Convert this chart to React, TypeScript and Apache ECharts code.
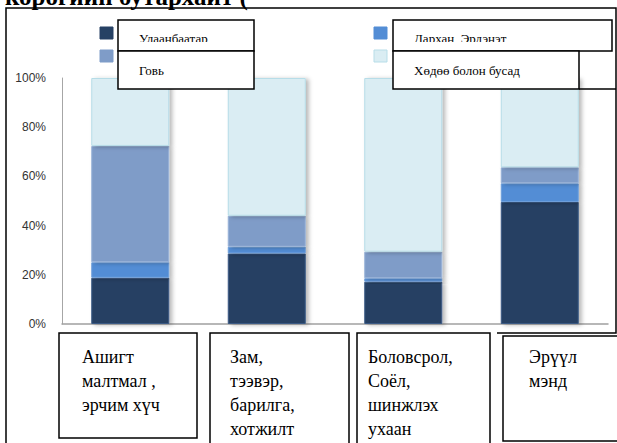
import React, { useEffect, useRef } from "react";
import * as echarts from "echarts";

// Sector categories (line breaks as they appear in the label boxes)
const categories = [
  "Ашигт\nмалтмал ,\nэрчим хүч",
  "Зам,\nтээвэр,\nбарилга,\nхотжилт",
  "Боловсрол,\nСоёл,\nшинжлэх\nухаан",
  "Эрүүл\nмэнд",
];

const seriesNames = ["Улаанбаатар", "Дархан, Эрдэнэт", "Говь", "Хөдөө болон бусад"];

// Shares by region, percent of each sector
const ulaanbaatar = [18.8, 28.7, 17.2, 49.6];
const darkhanErdenet = [6.3, 2.7, 1.4, 7.6];
const govi = [47.3, 12.6, 10.8, 6.5];
const rural = [27.6, 56.0, 70.6, 36.3];

const yTicks = [0, 20, 40, 60, 80, 100];

const titleText = "корогийн бутархайт (";

const colors = ["#264164", "#538DD5", "#7F9CC8", "#DAEDF3"];
const borderColors = ["#3A5A85", "#6FA0DC", "#98B3D8", "#B7DDE8"];

const serif = '"Liberation Serif", "Times New Roman", serif';

export default function App() {
  const ref = useRef<HTMLDivElement>(null);

  useEffect(() => {
    if (!ref.current) return;
    const chart = echarts.init(ref.current, null, { renderer: "svg" });

    const values = [ulaanbaatar, darkhanErdenet, govi, rural];

    const series = values.map((data, i) => ({
      name: seriesNames[i],
      type: "bar",
      stack: "total",
      barWidth: 78,
      data,
      itemStyle: {
        color: colors[i],
        borderColor: borderColors[i],
        borderWidth: 1,
        shadowColor: "rgba(0,0,0,0.28)",
        shadowBlur: 4,
        shadowOffsetX: 3,
        shadowOffsetY: 1,
      },
    }));

    const stroke = { stroke: "#000", lineWidth: 1.5 };
    const boxStyle = { fill: "#fff", stroke: "#000", lineWidth: 1.5 };

    // Legend: swatches + framed labels
    const legendSlots = [
      { sx: 100, sy: 27, bx: 118, by: 20, bw: 136, tx: 139, ty: 38, clip: true },
      { sx: 374, sy: 27, bx: 393, by: 20, bw: 219, tx: 414, ty: 38, clip: true },
      { sx: 100, sy: 50, bx: 118, by: 51, bw: 136, tx: 139, ty: 70, clip: false },
      { sx: 374, sy: 50, bx: 393, by: 51, bw: 186, tx: 414, ty: 70, clip: false },
    ];
    // legend order: UB, Darkhan (row 1), Govi, Rural (row 2)
    const legendSeries = [0, 1, 2, 3];

    const legendEls: any[] = [];
    legendSlots.forEach((s, k) => {
      const idx = legendSeries[k];
      const h = s.by === 20 ? 31 : 38;
      legendEls.push({
        type: "rect",
        shape: { x: s.sx, y: s.sy, width: 13, height: 12 },
        style: { fill: colors[idx], stroke: idx === 3 ? borderColors[3] : colors[idx], lineWidth: 1 },
        z: 100,
      });
      legendEls.push({
        type: "rect",
        shape: { x: s.bx, y: s.by, width: s.bw, height: h },
        style: boxStyle,
        z: 101,
      });
      legendEls.push({
        type: "text",
        x: s.tx,
        y: s.ty,
        style: { text: seriesNames[idx], font: `13px ${serif}`, fill: "#000", verticalAlign: "middle" },
        z: 102,
      });
      if (s.clip) {
        legendEls.push({
          type: "rect",
          shape: { x: s.bx + 1, y: 42, width: s.bw - 2, height: 8 },
          style: { fill: "#fff" },
          z: 103,
        });
      }
    });

    // Category label boxes under the plot
    const catBoxes = [
      { x: 59, y: 333, w: 138, h: 105, tx: 82 },
      { x: 210, y: 333, w: 139, h: 120, tx: 230 },
      { x: 357, y: 333, w: 133, h: 120, tx: 368 },
      { x: 503, y: 336, w: 130, h: 105, tx: 529 },
    ];
    const catEls: any[] = [];
    catBoxes.forEach((b, i) => {
      catEls.push({
        type: "rect",
        shape: { x: b.x, y: b.y, width: b.w, height: b.h },
        style: boxStyle,
        z: 100,
      });
      catEls.push({
        type: "text",
        x: b.tx,
        y: 345,
        style: {
          text: categories[i],
          font: `18px ${serif}`,
          lineHeight: 24,
          fill: "#000",
          verticalAlign: "top",
        },
        z: 101,
      });
    });

    chart.setOption({
      animation: false,
      backgroundColor: "#fff",
      grid: { left: 62, right: 9, top: 78, bottom: 119, containLabel: false },
      xAxis: {
        type: "category",
        data: categories,
        axisLabel: { show: false },
        axisTick: { show: false },
        axisLine: { lineStyle: { color: "#A0A0A0", width: 1.5 } },
      },
      yAxis: {
        type: "value",
        min: yTicks[0],
        max: yTicks[yTicks.length - 1],
        interval: 20,
        axisLine: { show: true, lineStyle: { color: "#A6A6A6", width: 1 } },
        axisTick: { show: false },
        splitLine: { show: false },
        axisLabel: {
          margin: 16,
          formatter: (v: number) => `${v}%`,
          fontFamily: '"Liberation Sans", Arial, sans-serif',
          fontSize: 12,
          color: "#333",
        },
      },
      series,
      graphic: [
        // title line, partly above the top edge
        {
          type: "text",
          x: 5,
          y: 9,
          style: { text: titleText, font: `bold 25px ${serif}`, fill: "#000", verticalAlign: "bottom" },
          z: 100,
        },
        // frame
        {
          type: "polyline",
          shape: { points: [[6, 443], [6, 8], [616, 8], [616, 333], [497, 333]] },
          style: { ...stroke, fill: "none" },
          z: 99,
        },
        {
          type: "line",
          shape: { x1: 579, y1: 89, x2: 616, y2: 89 },
          style: stroke,
          z: 99,
        },
        ...legendEls,
        ...catEls,
      ],
    });

    return () => chart.dispose();
  }, []);

  return (
    <div
      ref={ref}
      style={{ position: "fixed", left: 0, top: 0, width: 617, height: 443, background: "#fff" }}
    />
  );
}
